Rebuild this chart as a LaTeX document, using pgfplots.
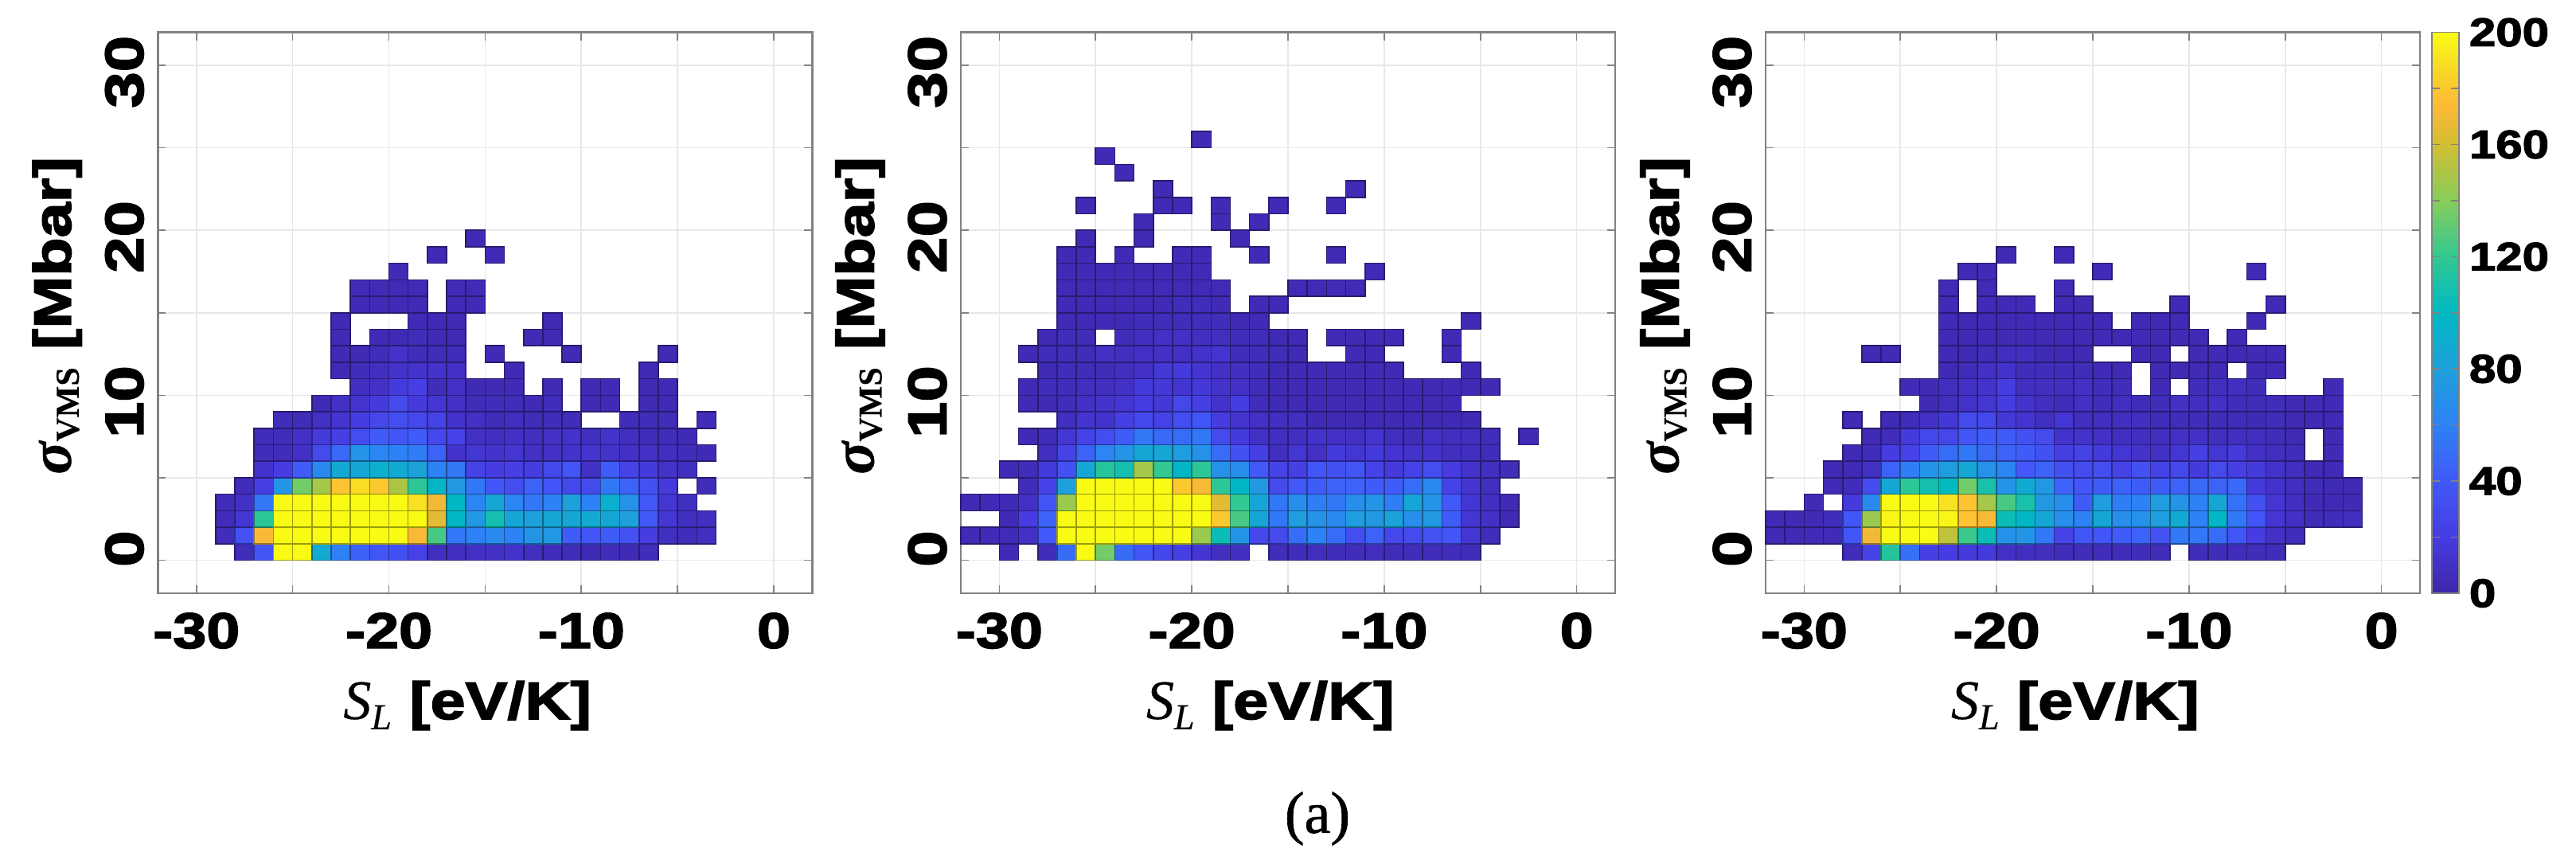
\documentclass[border=0pt]{standalone}
\usepackage{pgfplots}
\usepackage{pgfplotstable}
\usepackage{fontspec}
\pgfplotsset{compat=1.18}
\setmainfont{Liberation Sans}
\newfontfamily\blkfam[FakeBold=2.6,FakeStretch=1.2]{Liberation Sans Bold}
\newfontfamily\bifam[FakeBold=0.6]{Liberation Serif Bold Italic}
\newfontfamily\bfam[FakeBold=0.4]{Liberation Serif Bold}
\newfontfamily\itfam[FakeBold=0.4]{Liberation Serif Italic}
\newfontfamily\capfam[FakeBold=1]{Liberation Serif}
\newcommand{\ticksfont}{\blkfam\fontsize{15.75}{16}\selectfont}
\newcommand{\yticksfont}{\blkfam\fontsize{17}{17}\selectfont}
\newcommand{\labfont}{\blkfam\fontsize{16.5}{17}\selectfont}
\newcommand{\cbfont}{\blkfam\fontsize{12.5}{13}\selectfont}
\definecolor{axgray}{RGB}{130,130,130}
\definecolor{gridgray}{RGB}{232,232,232}
\pgfdeclareplotmark{cell}{\pgfpathrectangle{\pgfpointorigin}{\pgfpoint{6.045pt}{5.18pt}}\pgfusepathqfillstroke}
\pgfplotsset{
 colormap={parula}{
  rgb255(0pt)=(62,38,168)
  rgb255(10pt)=(70,60,225)
  rgb255(20pt)=(66,88,248)
  rgb255(30pt)=(45,130,245)
  rgb255(40pt)=(30,160,220)
  rgb255(50pt)=(0,185,195)
  rgb255(60pt)=(50,200,145)
  rgb255(70pt)=(135,205,90)
  rgb255(80pt)=(210,190,50)
  rgb255(87pt)=(254,185,55)
  rgb255(93pt)=(248,215,40)
  rgb255(100pt)=(249,251,20)
 },
 panel/.style={
  scale only axis,width=205.5pt,height=176.1pt,
  xmin=-32,xmax=2,ymin=-2,ymax=32,
  point meta min=0,point meta max=200,
  colormap name=parula,
  grid=major,grid style={gridgray,line width=0.4pt},
  xtick={-30,-25,...,0},xticklabels={-30,,-20,,-10,,0},
  ytick={0,5,...,30},yticklabels={0,,10,,20,,30},
  tick align=inside,major tick length=2.5pt,
  tick style={axgray,line width=0.4pt},
  axis line style={axgray,line width=0.6pt},
  xticklabel style={font=\ticksfont,inner sep=0pt,yshift=-6pt},
  yticklabel style={font=\yticksfont,inner sep=0pt,xshift=-10.5pt,yshift=9.5pt,rotate=90,anchor=east},
  xlabel={{\itfam\fontsize{17.5}{18}\selectfont S}\raisebox{-3.2pt}{\itfam\fontsize{11.5}{12}\selectfont L}\ \ {\labfont [eV/K]}},
  ylabel={{\bifam\fontsize{19}{19}\selectfont σ}\raisebox{-2.5pt}{\bfam\fontsize{10.5}{11}\selectfont VMS}\ \ {\labfont [Mbar]}},
  xlabel style={at={(axis description cs:0.473,-0.2)},anchor=center,inner sep=0pt},
  ylabel style={at={(axis description cs:-0.154,0.495)},anchor=center,inner sep=0pt,rotate=0},
 },
 heatcells/.style={scatter,only marks,mark=cell,point meta=\thisrow{v},
  scatter/use mapped color={draw=mapped color!62!black,fill=mapped color},
  mark options={line width=0.4pt}},
}
\pgfplotstableread[row sep=\\]{x y v\\
-28 0 6\\ -27 0 38\\ -26 0 200\\ -25 0 200\\ -24 0 88\\ -23 0 60\\ -22 0 45\\ -21 0 38\\ -20 0 35\\ -19 0 25\\ -18 0 8\\ -17 0 8\\ -16 0 10\\ -15 0 10\\ -14 0 12\\ -13 0 8\\ -12 0 6\\ -11 0 6\\ -10 0 5\\ -9 0 6\\ -8 0 5\\ -7 0 6\\
-29 1 6\\ -28 1 35\\ -27 1 172\\ -26 1 200\\ -25 1 200\\ -24 1 200\\ -23 1 200\\ -22 1 200\\ -21 1 200\\ -20 1 200\\ -19 1 172\\ -18 1 125\\ -17 1 55\\ -16 1 60\\ -15 1 65\\ -14 1 60\\ -13 1 72\\ -12 1 75\\ -11 1 42\\ -10 1 38\\ -9 1 42\\ -8 1 35\\ -7 1 20\\ -6 1 8\\ -5 1 6\\ -4 1 8\\
-29 2 6\\ -28 2 15\\ -27 2 118\\ -26 2 200\\ -25 2 200\\ -24 2 200\\ -23 2 200\\ -22 2 200\\ -21 2 200\\ -20 2 200\\ -19 2 200\\ -18 2 165\\ -17 2 98\\ -16 2 75\\ -15 2 108\\ -14 2 85\\ -13 2 80\\ -12 2 85\\ -11 2 85\\ -10 2 88\\ -9 2 85\\ -8 2 80\\ -7 2 40\\ -6 2 15\\ -5 2 8\\ -4 2 8\\
-29 3 6\\ -28 3 10\\ -27 3 55\\ -26 3 200\\ -25 3 200\\ -24 3 200\\ -23 3 200\\ -22 3 200\\ -21 3 200\\ -20 3 200\\ -19 3 190\\ -18 3 170\\ -17 3 100\\ -16 3 62\\ -15 3 85\\ -14 3 62\\ -13 3 55\\ -12 3 60\\ -11 3 80\\ -10 3 60\\ -9 3 92\\ -8 3 70\\ -7 3 40\\ -6 3 15\\ -5 3 8\\
-28 4 6\\ -27 4 22\\ -26 4 72\\ -25 4 135\\ -24 4 148\\ -23 4 178\\ -22 4 188\\ -21 4 180\\ -20 4 150\\ -19 4 118\\ -18 4 98\\ -17 4 75\\ -16 4 55\\ -15 4 38\\ -14 4 32\\ -13 4 45\\ -12 4 38\\ -11 4 28\\ -10 4 30\\ -9 4 55\\ -8 4 45\\ -7 4 35\\ -6 4 18\\ -4 4 6\\
-27 5 12\\ -26 5 20\\ -25 5 42\\ -24 5 65\\ -23 5 88\\ -22 5 85\\ -21 5 92\\ -20 5 88\\ -19 5 82\\ -18 5 60\\ -17 5 55\\ -16 5 25\\ -15 5 20\\ -14 5 22\\ -13 5 20\\ -12 5 28\\ -11 5 38\\ -10 5 10\\ -9 5 42\\ -8 5 25\\ -7 5 18\\ -6 5 12\\ -5 5 8\\
-27 6 6\\ -26 6 6\\ -25 6 10\\ -24 6 30\\ -23 6 48\\ -22 6 72\\ -21 6 62\\ -20 6 60\\ -19 6 58\\ -18 6 45\\ -17 6 12\\ -16 6 15\\ -15 6 12\\ -14 6 15\\ -13 6 10\\ -12 6 10\\ -11 6 12\\ -10 6 14\\ -9 6 12\\ -8 6 10\\ -7 6 10\\ -6 6 8\\ -5 6 6\\ -4 6 5\\
-27 7 6\\ -26 7 6\\ -25 7 10\\ -24 7 18\\ -23 7 22\\ -22 7 32\\ -21 7 42\\ -20 7 38\\ -19 7 42\\ -18 7 28\\ -17 7 25\\ -16 7 10\\ -15 7 8\\ -14 7 10\\ -13 7 8\\ -12 7 10\\ -11 7 12\\ -10 7 8\\ -9 7 12\\ -8 7 8\\ -7 7 6\\ -6 7 6\\ -5 7 5\\
-26 8 6\\ -25 8 6\\ -24 8 10\\ -23 8 14\\ -22 8 20\\ -21 8 28\\ -20 8 32\\ -19 8 28\\ -18 8 25\\ -17 8 12\\ -16 8 10\\ -15 8 6\\ -14 8 8\\ -13 8 6\\ -12 8 6\\ -11 8 6\\ -8 8 6\\ -7 8 6\\ -6 8 6\\ -4 8 6\\
-24 9 5\\ -23 9 10\\ -22 9 14\\ -21 9 18\\ -20 9 30\\ -19 9 18\\ -18 9 15\\ -17 9 10\\ -16 9 6\\ -15 9 6\\ -14 9 6\\ -13 9 5\\ -12 9 6\\ -10 9 5\\ -9 9 5\\ -7 9 5\\ -6 9 5\\
-22 10 8\\ -21 10 10\\ -20 10 18\\ -19 10 22\\ -18 10 6\\ -17 10 10\\ -16 10 5\\ -15 10 5\\ -14 10 5\\ -12 10 5\\ -10 10 5\\ -9 10 5\\ -7 10 5\\ -6 10 5\\
-23 11 5\\ -22 11 6\\ -21 11 8\\ -20 11 12\\ -19 11 12\\ -18 11 12\\ -17 11 10\\ -14 11 5\\ -7 11 5\\
-23 12 5\\ -22 12 5\\ -21 12 6\\ -20 12 12\\ -19 12 6\\ -18 12 6\\ -17 12 6\\ -15 12 5\\ -11 12 5\\ -6 12 5\\
-23 13 5\\ -21 13 5\\ -20 13 5\\ -19 13 6\\ -18 13 5\\ -17 13 5\\ -13 13 5\\ -12 13 5\\
-23 14 5\\ -19 14 5\\ -18 14 5\\ -17 14 5\\ -12 14 5\\
-22 15 5\\ -21 15 5\\ -20 15 5\\ -19 15 5\\ -17 15 5\\ -16 15 5\\
-22 16 5\\ -21 16 5\\ -20 16 5\\ -19 16 5\\ -17 16 5\\ -16 16 5\\
-20 17 5\\
-18 18 5\\ -15 18 5\\
-16 19 5\\
}\tabA
\pgfplotstableread[row sep=\\]{x y v\\
-30 0 5\\ -28 0 6\\ -27 0 50\\ -26 0 200\\ -25 0 135\\ -24 0 50\\ -23 0 38\\ -22 0 28\\ -21 0 22\\ -20 0 15\\ -19 0 8\\ -18 0 8\\ -16 0 6\\ -15 0 6\\ -14 0 7\\ -13 0 6\\ -12 0 6\\ -11 0 7\\ -10 0 6\\ -9 0 6\\ -8 0 6\\ -7 0 6\\ -6 0 6\\
-32 1 5\\ -31 1 5\\ -30 1 5\\ -29 1 10\\ -28 1 40\\ -27 1 200\\ -26 1 200\\ -25 1 200\\ -24 1 200\\ -23 1 200\\ -22 1 200\\ -21 1 200\\ -20 1 145\\ -19 1 105\\ -18 1 72\\ -17 1 28\\ -16 1 30\\ -15 1 50\\ -14 1 60\\ -13 1 50\\ -12 1 32\\ -11 1 45\\ -10 1 28\\ -9 1 30\\ -8 1 35\\ -7 1 38\\ -6 1 15\\ -5 1 6\\
-30 2 5\\ -29 2 20\\ -28 2 45\\ -27 2 200\\ -26 2 200\\ -25 2 200\\ -24 2 200\\ -23 2 200\\ -22 2 200\\ -21 2 200\\ -20 2 200\\ -19 2 180\\ -18 2 125\\ -17 2 85\\ -16 2 55\\ -15 2 78\\ -14 2 70\\ -13 2 65\\ -12 2 78\\ -11 2 75\\ -10 2 82\\ -9 2 68\\ -8 2 75\\ -7 2 42\\ -6 2 15\\ -5 2 10\\ -4 2 5\\
-32 3 5\\ -31 3 5\\ -30 3 5\\ -29 3 10\\ -28 3 38\\ -27 3 145\\ -26 3 200\\ -25 3 200\\ -24 3 200\\ -23 3 200\\ -22 3 200\\ -21 3 200\\ -20 3 200\\ -19 3 165\\ -18 3 120\\ -17 3 85\\ -16 3 55\\ -15 3 68\\ -14 3 58\\ -13 3 55\\ -12 3 68\\ -11 3 72\\ -10 3 58\\ -9 3 85\\ -8 3 72\\ -7 3 40\\ -6 3 15\\ -5 3 8\\ -4 3 5\\
-29 4 6\\ -28 4 25\\ -27 4 80\\ -26 4 200\\ -25 4 200\\ -24 4 200\\ -23 4 200\\ -22 4 200\\ -21 4 180\\ -20 4 172\\ -19 4 118\\ -18 4 98\\ -17 4 75\\ -16 4 30\\ -15 4 40\\ -14 4 42\\ -13 4 45\\ -12 4 45\\ -11 4 42\\ -10 4 42\\ -9 4 50\\ -8 4 65\\ -7 4 25\\ -6 4 14\\ -5 4 8\\
-30 5 5\\ -29 5 6\\ -28 5 18\\ -27 5 35\\ -26 5 85\\ -25 5 115\\ -24 5 108\\ -23 5 148\\ -22 5 120\\ -21 5 98\\ -20 5 118\\ -19 5 70\\ -18 5 68\\ -17 5 40\\ -16 5 25\\ -15 5 22\\ -14 5 38\\ -13 5 35\\ -12 5 38\\ -11 5 25\\ -10 5 18\\ -9 5 25\\ -8 5 32\\ -7 5 20\\ -6 5 12\\ -5 5 8\\ -4 5 6\\
-28 6 8\\ -27 6 25\\ -26 6 45\\ -25 6 62\\ -24 6 72\\ -23 6 85\\ -22 6 85\\ -21 6 78\\ -20 6 70\\ -19 6 50\\ -18 6 35\\ -17 6 22\\ -16 6 8\\ -15 6 15\\ -14 6 10\\ -13 6 18\\ -12 6 15\\ -11 6 18\\ -10 6 14\\ -9 6 12\\ -8 6 12\\ -7 6 8\\ -6 6 8\\ -5 6 6\\
-29 7 5\\ -28 7 6\\ -27 7 15\\ -26 7 25\\ -25 7 32\\ -24 7 42\\ -23 7 55\\ -22 7 48\\ -21 7 50\\ -20 7 55\\ -19 7 30\\ -18 7 18\\ -17 7 10\\ -16 7 8\\ -15 7 8\\ -14 7 12\\ -13 7 10\\ -12 7 10\\ -11 7 14\\ -10 7 8\\ -9 7 6\\ -8 7 10\\ -7 7 8\\ -6 7 8\\ -5 7 6\\ -3 7 5\\
-27 8 8\\ -26 8 14\\ -25 8 12\\ -24 8 22\\ -23 8 28\\ -22 8 25\\ -21 8 32\\ -20 8 38\\ -19 8 20\\ -18 8 14\\ -17 8 10\\ -16 8 8\\ -15 8 8\\ -14 8 5\\ -13 8 5\\ -12 8 5\\ -11 8 5\\ -10 8 5\\ -9 8 5\\ -8 8 5\\ -7 8 5\\ -6 8 5\\
-29 9 5\\ -28 9 5\\ -27 9 6\\ -26 9 10\\ -25 9 12\\ -24 9 15\\ -23 9 20\\ -22 9 16\\ -21 9 28\\ -20 9 22\\ -19 9 12\\ -18 9 20\\ -17 9 6\\ -16 9 5\\ -15 9 5\\ -14 9 5\\ -13 9 5\\ -12 9 5\\ -11 9 5\\ -10 9 5\\ -9 9 5\\ -8 9 5\\ -7 9 5\\
-29 10 5\\ -28 10 6\\ -27 10 6\\ -26 10 8\\ -25 10 8\\ -24 10 10\\ -23 10 18\\ -22 10 16\\ -21 10 14\\ -20 10 16\\ -19 10 12\\ -18 10 10\\ -17 10 6\\ -16 10 5\\ -15 10 5\\ -14 10 5\\ -13 10 5\\ -12 10 5\\ -11 10 5\\ -10 10 5\\ -9 10 5\\ -8 10 5\\ -7 10 5\\ -6 10 5\\ -5 10 5\\
-28 11 5\\ -27 11 6\\ -26 11 6\\ -25 11 6\\ -24 11 8\\ -23 11 10\\ -22 11 16\\ -21 11 18\\ -20 11 14\\ -19 11 10\\ -18 11 8\\ -17 11 6\\ -16 11 5\\ -15 11 5\\ -14 11 5\\ -13 11 5\\ -12 11 5\\ -11 11 5\\ -10 11 5\\ -6 11 5\\
-29 12 5\\ -28 12 6\\ -27 12 6\\ -26 12 6\\ -25 12 10\\ -24 12 8\\ -23 12 10\\ -22 12 10\\ -21 12 10\\ -20 12 12\\ -19 12 14\\ -18 12 6\\ -17 12 6\\ -16 12 6\\ -15 12 5\\ -12 12 5\\ -11 12 5\\ -7 12 5\\
-28 13 5\\ -27 13 6\\ -26 13 6\\ -24 13 6\\ -23 13 8\\ -22 13 10\\ -21 13 10\\ -20 13 8\\ -19 13 8\\ -18 13 6\\ -17 13 6\\ -16 13 5\\ -15 13 5\\ -13 13 5\\ -12 13 5\\ -11 13 5\\ -10 13 5\\ -7 13 5\\
-27 14 5\\ -26 14 5\\ -25 14 5\\ -24 14 5\\ -23 14 6\\ -22 14 6\\ -21 14 6\\ -20 14 6\\ -19 14 6\\ -18 14 5\\ -17 14 5\\ -6 14 5\\
-27 15 5\\ -26 15 5\\ -25 15 5\\ -24 15 5\\ -23 15 5\\ -22 15 5\\ -21 15 6\\ -20 15 6\\ -19 15 5\\ -17 15 5\\ -16 15 5\\
-27 16 5\\ -26 16 5\\ -25 16 5\\ -24 16 5\\ -23 16 5\\ -22 16 5\\ -21 16 5\\ -20 16 5\\ -19 16 5\\ -15 16 5\\ -14 16 5\\ -13 16 5\\ -12 16 5\\
-27 17 5\\ -26 17 5\\ -25 17 5\\ -24 17 5\\ -23 17 5\\ -22 17 5\\ -21 17 5\\ -20 17 5\\ -11 17 5\\
-27 18 5\\ -26 18 5\\ -24 18 5\\ -21 18 5\\ -20 18 5\\ -17 18 5\\ -13 18 5\\
-26 19 5\\ -23 19 5\\ -18 19 5\\
-23 20 5\\ -19 20 5\\ -17 20 5\\
-26 21 5\\ -22 21 5\\ -21 21 5\\ -19 21 5\\ -16 21 5\\ -13 21 5\\
-22 22 5\\ -12 22 5\\
-24 23 5\\
-25 24 5\\
-20 25 5\\
}\tabB
\pgfplotstableread[row sep=\\]{x y v\\
-28 0 6\\ -27 0 25\\ -26 0 115\\ -25 0 52\\ -24 0 22\\ -23 0 20\\ -22 0 18\\ -21 0 18\\ -20 0 10\\ -19 0 8\\ -18 0 8\\ -17 0 6\\ -16 0 6\\ -15 0 6\\ -14 0 6\\ -13 0 6\\ -12 0 6\\ -10 0 6\\ -9 0 6\\ -8 0 6\\ -7 0 6\\ -6 0 6\\
-32 1 5\\ -31 1 5\\ -30 1 5\\ -29 1 5\\ -28 1 38\\ -27 1 170\\ -26 1 200\\ -25 1 200\\ -24 1 200\\ -23 1 155\\ -22 1 122\\ -21 1 105\\ -20 1 70\\ -19 1 72\\ -18 1 55\\ -17 1 25\\ -16 1 38\\ -15 1 38\\ -14 1 42\\ -13 1 45\\ -12 1 36\\ -11 1 55\\ -10 1 55\\ -9 1 50\\ -8 1 38\\ -7 1 20\\ -6 1 10\\ -5 1 6\\
-32 2 5\\ -31 2 5\\ -30 2 5\\ -29 2 6\\ -28 2 38\\ -27 2 145\\ -26 2 198\\ -25 2 200\\ -24 2 200\\ -23 2 198\\ -22 2 178\\ -21 2 172\\ -20 2 105\\ -19 2 98\\ -18 2 85\\ -17 2 68\\ -16 2 60\\ -15 2 85\\ -14 2 68\\ -13 2 70\\ -12 2 78\\ -11 2 88\\ -10 2 60\\ -9 2 98\\ -8 2 55\\ -7 2 38\\ -6 2 15\\ -5 2 10\\ -4 2 6\\ -3 2 6\\ -2 2 8\\
-30 3 5\\ -28 3 18\\ -27 3 65\\ -26 3 200\\ -25 3 200\\ -24 3 200\\ -23 3 190\\ -22 3 178\\ -21 3 148\\ -20 3 125\\ -19 3 110\\ -18 3 75\\ -17 3 68\\ -16 3 42\\ -15 3 78\\ -14 3 58\\ -13 3 60\\ -12 3 78\\ -11 3 72\\ -10 3 60\\ -9 3 85\\ -8 3 52\\ -7 3 35\\ -6 3 15\\ -5 3 8\\ -4 3 5\\ -3 3 5\\ -2 3 5\\
-29 4 5\\ -28 4 6\\ -27 4 30\\ -26 4 85\\ -25 4 118\\ -24 4 108\\ -23 4 102\\ -22 4 135\\ -21 4 110\\ -20 4 72\\ -19 4 88\\ -18 4 75\\ -17 4 45\\ -16 4 38\\ -15 4 42\\ -14 4 45\\ -13 4 42\\ -12 4 42\\ -11 4 45\\ -10 4 48\\ -9 4 45\\ -8 4 48\\ -7 4 18\\ -6 4 12\\ -5 4 8\\ -4 4 6\\ -3 4 5\\ -2 4 5\\
-29 5 5\\ -28 5 5\\ -27 5 10\\ -26 5 45\\ -25 5 58\\ -24 5 72\\ -23 5 78\\ -22 5 85\\ -21 5 70\\ -20 5 62\\ -19 5 40\\ -18 5 45\\ -17 5 35\\ -16 5 30\\ -15 5 32\\ -14 5 25\\ -13 5 35\\ -12 5 25\\ -11 5 28\\ -10 5 18\\ -9 5 30\\ -8 5 22\\ -7 5 18\\ -6 5 12\\ -5 5 8\\ -4 5 5\\ -3 5 5\\
-28 6 5\\ -27 6 6\\ -26 6 20\\ -25 6 25\\ -24 6 42\\ -23 6 50\\ -22 6 55\\ -21 6 48\\ -20 6 45\\ -19 6 42\\ -18 6 35\\ -17 6 22\\ -16 6 25\\ -15 6 18\\ -14 6 15\\ -13 6 12\\ -12 6 10\\ -11 6 15\\ -10 6 22\\ -9 6 15\\ -8 6 18\\ -7 6 10\\ -6 6 8\\ -5 6 6\\ -3 6 5\\
-27 7 5\\ -26 7 6\\ -25 7 18\\ -24 7 28\\ -23 7 28\\ -22 7 38\\ -21 7 42\\ -20 7 42\\ -19 7 35\\ -18 7 30\\ -17 7 12\\ -16 7 12\\ -15 7 10\\ -14 7 8\\ -13 7 8\\ -12 7 8\\ -11 7 10\\ -10 7 10\\ -9 7 8\\ -8 7 8\\ -7 7 8\\ -6 7 6\\ -5 7 5\\ -3 7 5\\
-28 8 5\\ -26 8 5\\ -25 8 6\\ -24 8 10\\ -23 8 16\\ -22 8 30\\ -21 8 28\\ -20 8 16\\ -19 8 14\\ -18 8 8\\ -17 8 15\\ -16 8 8\\ -15 8 8\\ -14 8 8\\ -13 8 8\\ -12 8 6\\ -11 8 6\\ -10 8 6\\ -9 8 6\\ -8 8 6\\ -7 8 5\\ -6 8 6\\ -5 8 5\\ -4 8 5\\ -3 8 5\\
-24 9 5\\ -23 9 8\\ -22 9 12\\ -21 9 15\\ -20 9 20\\ -19 9 12\\ -18 9 8\\ -17 9 6\\ -16 9 10\\ -15 9 6\\ -14 9 8\\ -13 9 6\\ -12 9 6\\ -11 9 10\\ -10 9 8\\ -9 9 10\\ -8 9 6\\ -7 9 6\\ -6 9 6\\ -5 9 5\\ -4 9 5\\ -3 9 5\\
-25 10 5\\ -24 10 5\\ -23 10 8\\ -22 10 10\\ -21 10 12\\ -20 10 20\\ -19 10 8\\ -18 10 8\\ -17 10 8\\ -16 10 10\\ -15 10 6\\ -14 10 6\\ -12 10 5\\ -10 10 6\\ -9 10 8\\ -8 10 8\\ -7 10 6\\ -3 10 5\\
-23 11 5\\ -22 11 6\\ -21 11 10\\ -20 11 12\\ -19 11 6\\ -18 11 6\\ -17 11 6\\ -16 11 6\\ -15 11 5\\ -14 11 5\\ -12 11 5\\ -11 11 5\\ -10 11 5\\ -9 11 5\\ -7 11 5\\ -6 11 5\\
-27 12 5\\ -26 12 5\\ -23 12 5\\ -22 12 5\\ -21 12 6\\ -20 12 8\\ -19 12 8\\ -18 12 5\\ -17 12 5\\ -16 12 5\\ -13 12 5\\ -12 12 5\\ -10 12 5\\ -9 12 5\\ -8 12 5\\ -7 12 5\\ -6 12 5\\
-23 13 5\\ -22 13 5\\ -21 13 5\\ -20 13 5\\ -19 13 5\\ -18 13 5\\ -17 13 5\\ -16 13 5\\ -15 13 5\\ -14 13 5\\ -13 13 5\\ -12 13 5\\ -11 13 5\\ -10 13 5\\ -8 13 5\\
-23 14 5\\ -22 14 5\\ -21 14 5\\ -20 14 5\\ -19 14 5\\ -18 14 5\\ -17 14 5\\ -16 14 5\\ -15 14 5\\ -13 14 5\\ -12 14 5\\ -11 14 5\\ -7 14 5\\
-23 15 5\\ -21 15 5\\ -20 15 5\\ -19 15 5\\ -17 15 5\\ -16 15 5\\ -11 15 5\\ -6 15 5\\
-23 16 5\\ -21 16 5\\ -17 16 5\\
-22 17 5\\ -21 17 5\\ -15 17 5\\ -7 17 5\\
-20 18 5\\ -17 18 5\\
}\tabC
\begin{document}
\begin{tikzpicture}
\path[use as bounding box] (0,0) rectangle (809pt,271pt);
\begin{axis}[panel,at={(49.6pt,84.75pt)},anchor=south west]
\addplot[heatcells] table[x=x,y=y]{\tabA};
\end{axis}
\begin{axis}[panel,at={(301.75pt,84.75pt)},anchor=south west]
\addplot[heatcells] table[x=x,y=y]{\tabB};
\end{axis}
\begin{axis}[panel,at={(554.5pt,84.75pt)},anchor=south west,
 colorbar,
 colorbar style={
  at={(parent axis.south east)},anchor=south west,xshift=-4.75pt,
  scale only axis,width=8.5pt,height=176.1pt,
  ytick={0,20,...,200},yticklabels={0,,40,,80,,120,,160,,200},
  tick align=inside,major tick length=2.5pt,
  tick style={axgray,line width=0.4pt},
  axis line style={axgray,line width=0.4pt},
  yticklabel style={font=\cbfont,inner sep=0pt,xshift=3pt,rotate=0,anchor=west,yshift=0pt},
  xticklabels={},ylabel={},xlabel={},grid=none,
 }]
\addplot[heatcells] table[x=x,y=y]{\tabC};
\end{axis}
\node[font=\capfam\fontsize{18.5}{19}\selectfont,inner sep=0pt] at (413.75pt,14pt) {(a)};
\end{tikzpicture}
\end{document}
